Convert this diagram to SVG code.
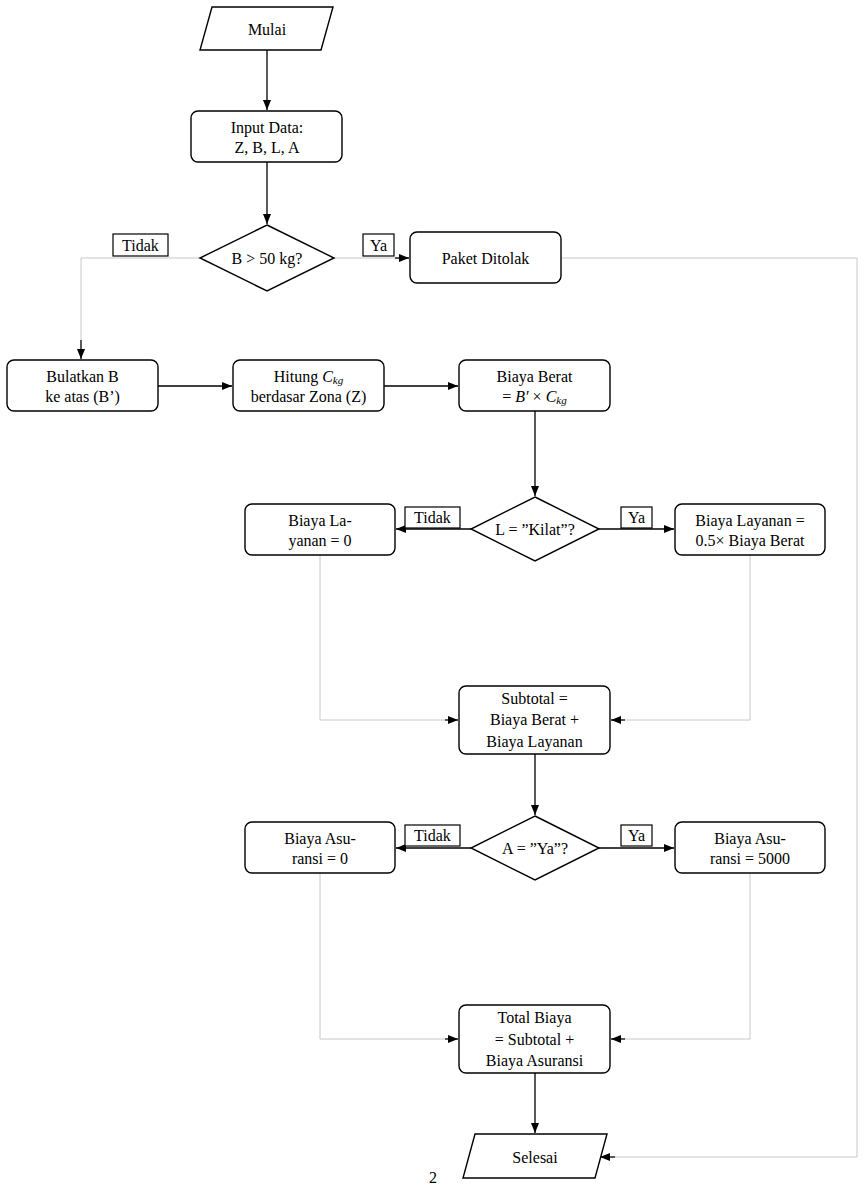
<svg xmlns="http://www.w3.org/2000/svg" width="864" height="1190" viewBox="0 0 864 1190">
<style>
text{font-family:"Liberation Serif","DejaVu Serif",serif;font-size:16px;fill:#000;text-anchor:middle;dominant-baseline:central}
.n{fill:#fff;stroke:#000;stroke-width:1.4}
.lb{fill:#fff;stroke:#000;stroke-width:1.2}
.k{fill:none;stroke:#000;stroke-width:1.3}
.g{fill:none;stroke:#c8c8c8;stroke-width:1}
i{font-style:italic}
</style>
<defs><marker id="a" viewBox="0 0 10 10" refX="10" refY="5" markerWidth="10" markerHeight="10" markerUnits="userSpaceOnUse" orient="auto"><path d="M0,1 L10,5 L0,9 z" fill="#000"/></marker></defs>
<rect width="864" height="1190" fill="#fff"/>
<g id="connectors">
<path class="k" d="M267,50 V110" marker-end="url(#a)"/>
<path class="k" d="M267,162 V224" marker-end="url(#a)"/>
<path class="g" d="M334,258 H409"/><path class="k" d="M395,258 H409" marker-end="url(#a)"/>
<path class="g" d="M200,258 H81 V340"/><path class="k" d="M81,340 V359" marker-end="url(#a)"/>
<path class="k" d="M158,386 H232" marker-end="url(#a)"/>
<path class="k" d="M384,386 H458" marker-end="url(#a)"/>
<path class="k" d="M535,411 V496" marker-end="url(#a)"/>
<path class="k" d="M471,529 H396" marker-end="url(#a)"/>
<path class="k" d="M599,529 H674" marker-end="url(#a)"/>
<path class="g" d="M320,555 V720 H445"/><path class="k" d="M445,720 H458" marker-end="url(#a)"/>
<path class="g" d="M750,555 V720 H625"/><path class="k" d="M625,720 H611" marker-end="url(#a)"/>
<path class="k" d="M535,754 V815" marker-end="url(#a)"/>
<path class="k" d="M471,848 H396" marker-end="url(#a)"/>
<path class="k" d="M599,848 H674" marker-end="url(#a)"/>
<path class="g" d="M320,873 V1039 H445"/><path class="k" d="M445,1039 H458" marker-end="url(#a)"/>
<path class="g" d="M750,873 V1039 H625"/><path class="k" d="M625,1039 H611" marker-end="url(#a)"/>
<path class="k" d="M535,1073 V1133" marker-end="url(#a)"/>
<path class="g" d="M561,258 H857 V1157 H615"/><path class="k" d="M615,1157 H600" marker-end="url(#a)"/>
</g>
<g id="mulai"><path class="n" d="M212,7 H333 L321,50 H200 z"/><text x="267" y="29">Mulai</text></g>
<g id="input"><rect class="n" x="191" y="111" width="151" height="51" rx="7"/><text x="267" y="127">Input Data:</text><text x="267" y="147">Z, B, L, A</text></g>
<g id="d1"><path class="n" d="M267,225 L334,258 L267,291 L200,258 z"/><text x="267" y="258">B &gt; 50 kg?</text></g>
<g id="l1"><rect class="lb" x="113" y="234" width="55" height="22"/><text x="140.5" y="245">Tidak</text></g>
<g id="l2"><rect class="lb" x="363" y="234" width="31" height="22"/><text x="378.5" y="245">Ya</text></g>
<g id="ditolak"><rect class="n" x="410" y="232" width="151" height="51" rx="7"/><text x="485.5" y="258">Paket Ditolak</text></g>
<g id="bulatkan"><rect class="n" x="7" y="360" width="151" height="51" rx="7"/><text x="82.5" y="376">Bulatkan B</text><text x="82.5" y="396">ke atas (B’)</text></g>
<g id="hitung"><rect class="n" x="233" y="360" width="151" height="51" rx="7"/><text x="308.5" y="376">Hitung <tspan font-style="italic">C</tspan><tspan font-style="italic" font-size="11" dy="4">kg</tspan></text><text x="308.5" y="396">berdasar Zona (Z)</text></g>
<g id="berat"><rect class="n" x="459" y="360" width="151" height="51" rx="7"/><text x="534.5" y="376">Biaya Berat</text><text x="534.5" y="396">= <tspan font-style="italic">B′</tspan> × <tspan font-style="italic">C</tspan><tspan font-style="italic" font-size="11" dy="4">kg</tspan></text></g>
<g id="d2"><path class="n" d="M535,497 L599,529 L535,561 L471,529 z"/><text x="535" y="529">L = ”Kilat”?</text></g>
<g id="l3"><rect class="lb" x="405" y="507" width="55" height="21"/><text x="432.5" y="517.5">Tidak</text></g>
<g id="l4"><rect class="lb" x="621" y="507" width="31" height="21"/><text x="636.5" y="517.5">Ya</text></g>
<g id="lay0"><rect class="n" x="245" y="504" width="150" height="51" rx="7"/><text x="320" y="520">Biaya La-</text><text x="320" y="540">yanan = 0</text></g>
<g id="lay1"><rect class="n" x="675" y="504" width="150" height="51" rx="7"/><text x="750" y="520">Biaya Layanan =</text><text x="750" y="540">0.5× Biaya Berat</text></g>
<g id="subtotal"><rect class="n" x="459" y="686" width="151" height="68" rx="7"/><text x="534.5" y="698">Subtotal =</text><text x="534.5" y="719">Biaya Berat +</text><text x="534.5" y="741">Biaya Layanan</text></g>
<g id="d3"><path class="n" d="M535,816 L599,848 L535,880 L471,848 z"/><text x="535" y="848">A = ”Ya”?</text></g>
<g id="l5"><rect class="lb" x="405" y="825" width="55" height="21"/><text x="432.5" y="835.5">Tidak</text></g>
<g id="l6"><rect class="lb" x="621" y="825" width="31" height="21"/><text x="636.5" y="835.5">Ya</text></g>
<g id="as0"><rect class="n" x="245" y="822" width="150" height="51" rx="7"/><text x="320" y="838">Biaya Asu-</text><text x="320" y="858">ransi = 0</text></g>
<g id="as1"><rect class="n" x="675" y="822" width="150" height="51" rx="7"/><text x="750" y="838">Biaya Asu-</text><text x="750" y="858">ransi = 5000</text></g>
<g id="total"><rect class="n" x="459" y="1005" width="151" height="68" rx="7"/><text x="534.5" y="1017">Total Biaya</text><text x="534.5" y="1039">= Subtotal +</text><text x="534.5" y="1060">Biaya Asuransi</text></g>
<g id="selesai"><path class="n" d="M475,1134 H607 L595,1178 H463 z"/><text x="535" y="1157">Selesai</text></g>
<text x="433" y="1177">2</text>
</svg>
